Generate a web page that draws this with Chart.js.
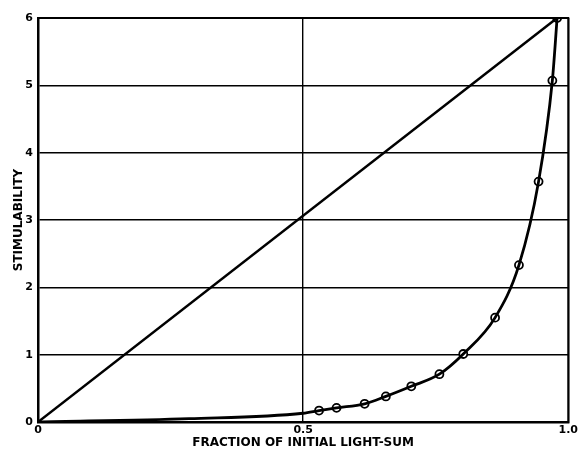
<!DOCTYPE html>
<html>
<head>
<meta charset="utf-8">
<script src="https://cdn.jsdelivr.net/npm/chart.js@4/dist/chart.umd.min.js"></script>
<style>
  html, body { margin: 0; padding: 0; background: #fff; }
  #wrap { width: 580px; height: 450px; }
</style>
</head>
<body>
<div id="wrap"><canvas id="stimChart"></canvas></div>
<script>
// measured points (circles)
const fraction = [0.530, 0.563, 0.616, 0.656, 0.704, 0.757, 0.802, 0.862, 0.907, 0.944, 0.970, 0.979];
const stimulability = [0.17, 0.21, 0.27, 0.38, 0.53, 0.71, 1.01, 1.55, 2.33, 3.57, 5.07, 6.0];

// low part of the drawn curve, no circles there
const curveStartX = [0, 0.285, 0.5];
const curveStartY = [0, 0.05, 0.13];

// straight reference line
const lineX = [0, 0.979];
const lineY = [0, 6.0];

const xTickLabels = ["0", "0.5", "1.0"];
const yTickLabels = ["0", "1", "2", "3", "4", "5", "6"];

const toPts = (xs, ys) => xs.map((x, i) => ({ x: x, y: ys[i] }));

const curveData = toPts(curveStartX.concat(fraction), curveStartY.concat(stimulability));

const ctx = document.querySelector("#stimChart").getContext("2d");
const tickFont = { family: "'DejaVu Sans', sans-serif", weight: "bold", size: 11 };
const titleFont = { family: "'DejaVu Sans', sans-serif", weight: "bold", size: 12 };

new Chart(ctx, {
  type: "scatter",
  data: {
    datasets: [
      {
        data: toPts(lineX, lineY),
        showLine: true,
        borderColor: "#000",
        borderWidth: 2.5,
        pointRadius: 0,
      },
      {
        data: curveData,
        showLine: true,
        cubicInterpolationMode: "monotone",
        borderColor: "#000",
        borderWidth: 2.8,
        pointRadius: 0,
      },
      {
        data: toPts(fraction, stimulability),
        showLine: false,
        pointRadius: 4,
        pointBorderWidth: 1.8,
        pointBackgroundColor: "#fff",
        pointBorderColor: "#000",
      },
    ],
  },
  options: {
    responsive: true,
    maintainAspectRatio: false,
    animation: false,
    layout: { padding: { top: 18, right: 11, left: 0, bottom: 0 } },
    plugins: { legend: { display: false }, tooltip: { enabled: false } },
    scales: {
      x: {
        type: "linear",
        min: 0,
        max: 1,
        afterBuildTicks: (scale) => {
          scale.ticks = [0, 0.5, 1].map((v) => ({ value: v }));
        },
        afterFit: (scale) => { scale.height = 28; },
        border: { color: "#000", width: 2.5 },
        grid: { color: "#000", lineWidth: 1.4, drawTicks: false },
        ticks: {
          color: "#000",
          font: tickFont,
          padding: 2,
          maxRotation: 0,
          callback: (v, i) => xTickLabels[i],
        },
        title: {
          display: true,
          text: "FRACTION OF INITIAL LIGHT-SUM",
          color: "#000",
          font: titleFont,
          padding: { top: 0, bottom: 0 },
        },
      },
      y: {
        min: 0,
        max: 6,
        afterFit: (scale) => { scale.width = 38; },
        border: { color: "#000", width: 2.5 },
        grid: { color: "#000", lineWidth: 1.4, drawTicks: false },
        ticks: {
          stepSize: 1,
          color: "#000",
          font: tickFont,
          padding: 5,
          callback: (v) => yTickLabels[v],
        },
        title: {
          display: true,
          text: "STIMULABILITY",
          color: "#000",
          font: titleFont,
          padding: { top: 12, bottom: 0 },
        },
      },
    },
  },
  plugins: [
    {
      id: "frame",
      afterDatasetsDraw(chart) {
        const a = chart.chartArea;
        const c = chart.ctx;
        c.save();
        c.strokeStyle = "#000";
        c.lineWidth = 2;
        c.strokeRect(a.left, a.top, a.right - a.left, a.bottom - a.top);
        c.restore();
      },
    },
  ],
});
</script>
</body>
</html>
